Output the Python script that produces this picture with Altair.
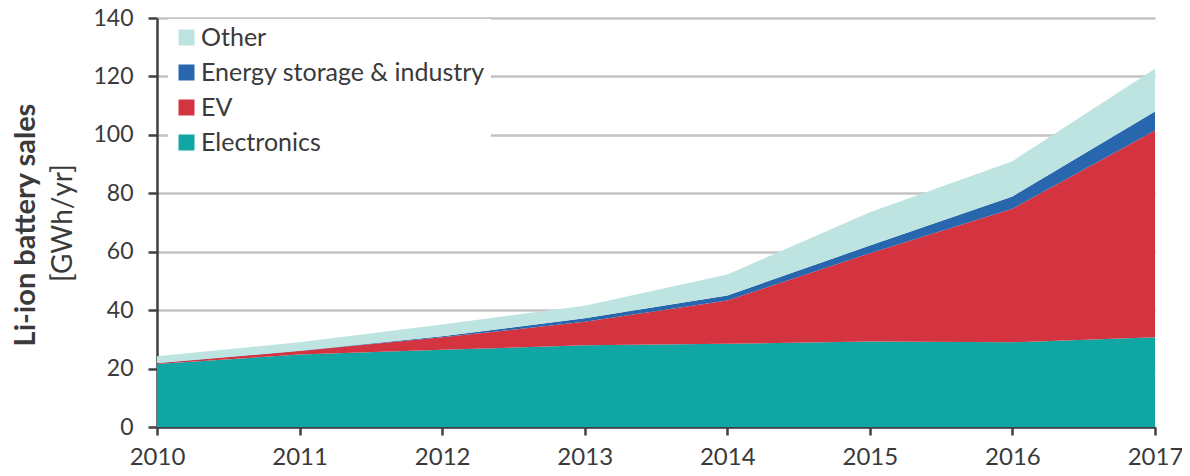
import altair as alt
import pandas as pd

years = [2010, 2011, 2012, 2013, 2014, 2015, 2016, 2017]
series_names = ["Other", "Energy storage & industry", "EV", "Electronics"]
electronics = [21.6, 24.8, 26.4, 28.0, 28.5, 29.3, 29.0, 30.7]
ev = [0.2, 1.2, 4.3, 8.0, 14.8, 30.2, 45.7, 70.8]
storage = [0.1, 0.1, 0.4, 1.2, 1.7, 2.6, 4.2, 6.5]
other = [2.3, 2.9, 4.0, 4.3, 7.2, 11.4, 12.1, 14.6]
colors = ["#bde4e0", "#2866ad", "#d33440", "#10a6a3"]
y_ticks = [0, 20, 40, 60, 80, 100, 120, 140]
title_main = ["Li-ion battery sales"]
title_unit = ["[GWh/yr]"]

FONT = "Lato"
TXT = "#3a3a3a"

stack_order = {"Electronics": 0, "EV": 1, "Energy storage & industry": 2, "Other": 3}
rows = []
for name, vals in [("Electronics", electronics), ("EV", ev),
                   ("Energy storage & industry", storage), ("Other", other)]:
    for yr, v in zip(years, vals):
        rows.append({"year": yr, "series": name, "value": v, "ord": stack_order[name]})
df = pd.DataFrame(rows)

area = alt.Chart(df).mark_area(interpolate="linear", opacity=1).encode(
    x=alt.X("year:Q", scale=alt.Scale(domain=[2010, 2017], nice=False, zero=False),
            axis=alt.Axis(values=years, format="d", title=None, grid=False,
                          labelFontSize=24, labelFont=FONT, labelColor=TXT,
                          tickSize=8, tickWidth=2.5, tickColor="#404040",
                          domainColor="#404040", domainWidth=2.5, labelPadding=10,
                          labelFlush=False)),
    y=alt.Y("value:Q", stack="zero",
            scale=alt.Scale(domain=[0, 140], nice=False),
            axis=alt.Axis(values=y_ticks, title=None, grid=True, gridColor="#c3c3c3",
                          gridWidth=2.5, labelFontSize=23, labelFont=FONT, labelColor=TXT,
                          tickSize=9, tickWidth=2.5, tickColor="#404040",
                          domainColor="#404040", domainWidth=2.5, labelPadding=15)),
    color=alt.Color("series:N",
                    scale=alt.Scale(domain=series_names, range=colors),
                    legend=alt.Legend(title=None, orient="none", legendX=11, legendY=1,
                                      fillColor="white", padding=6, symbolType="square",
                                      symbolSize=256, symbolStrokeWidth=0,
                                      labelFontSize=25, labelFont=FONT, labelColor=TXT,
                                      labelLimit=0, rowPadding=9, labelOffset=2)),
    order=alt.Order("ord:Q", sort="ascending"),
)

t1 = alt.Chart(pd.DataFrame({"t": title_main})).mark_text(
    angle=270, font=FONT, fontSize=29, fontWeight="bold", color=TXT,
    align="center", baseline="middle"
).encode(text="t:N", x=alt.value(-131), y=alt.value(207))

t2 = alt.Chart(pd.DataFrame({"t": title_unit})).mark_text(
    angle=270, font=FONT, fontSize=28, color=TXT,
    align="center", baseline="middle"
).encode(text="t:N", x=alt.value(-93), y=alt.value(205))

chart = alt.layer(area, t1, t2).properties(
    width=998, height=409,
    autosize=alt.AutoSizeParams(type="none"),
    padding={"left": 149, "top": 10, "right": 27, "bottom": 41},
).configure_view(stroke=None)

chart.save("out.html", embed_options={"renderer": "svg", "actions": False})
